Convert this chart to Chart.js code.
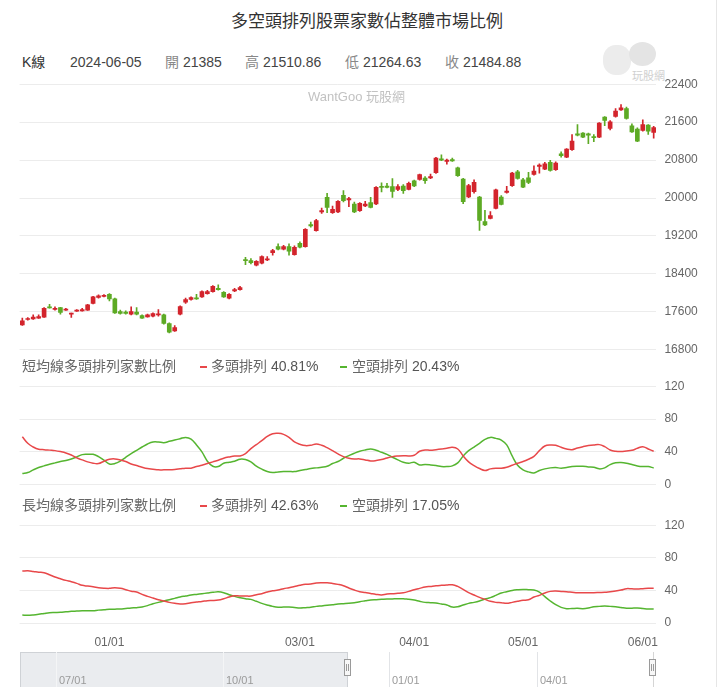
<!DOCTYPE html>
<html>
<head>
<meta charset="utf-8">
<script src="https://cdn.jsdelivr.net/npm/chart.js@4.4.1/dist/chart.umd.min.js"></script>
<style>
  body { margin: 0; background: #fff; font-family: "Liberation Sans", "Noto Sans CJK TC", sans-serif; }
  #wrap { position: relative; width: 720px; height: 687px; overflow: hidden; }
  #wrap canvas { position: absolute; left: 0; }
  .t { position: absolute; white-space: nowrap; line-height: 16px; }
  .dash { position: absolute; width: 7px; height: 2px; }
  .nav-line { position: absolute; top: 652px; width: 1px; height: 40px; background: #e2e4e7; }
  .nav-lbl { position: absolute; top: 674px; font-size: 11px; color: #9a9a9a; }
  .handle { position: absolute; top: 659px; width: 7px; height: 17px; background: #f7f7f7; border: 1px solid #9a9a9a; box-sizing: border-box; }
  .handle::before, .handle::after { content: ''; position: absolute; top: 4px; width: 1px; height: 7px; background: #9a9a9a; }
  .handle::before { left: 1px; }
  .handle::after { left: 3px; }
</style>
</head>
<body>
<div id="wrap">
  <div class="t" style="left:0;width:734px;text-align:center;top:13px;font-size:17px;line-height:18px;color:#333;">多空頭排列股票家數佔整體市場比例</div>

  <div class="t" style="left:22px;top:54px;font-size:14px;color:#333;">K線</div>
  <div class="t" style="left:70px;top:54px;font-size:14px;color:#444;">2024-06-05</div>
  <div class="t" style="left:165px;top:54px;font-size:14px;color:#444;"><span style="color:#888">開</span> 21385</div>
  <div class="t" style="left:245px;top:54px;font-size:14px;color:#444;"><span style="color:#888">高</span> 21510.86</div>
  <div class="t" style="left:345px;top:54px;font-size:14px;color:#444;"><span style="color:#888">低</span> 21264.63</div>
  <div class="t" style="left:445px;top:54px;font-size:14px;color:#444;"><span style="color:#888">收</span> 21484.88</div>

  <div style="position:absolute;left:603px;top:45px;width:28px;height:30px;border-radius:45%;background:#ececec;"></div>
  <div style="position:absolute;left:629px;top:42px;width:27px;height:24px;border-radius:50%;background:#e4e4e4;"></div>
  <div class="t" style="left:632px;top:68px;font-size:11px;color:#cfcfcf;">玩股網</div>

  <canvas id="kChart" width="720" height="286" style="top:74px"></canvas>
  <div class="t" style="left:308px;top:89px;font-size:13px;color:#c2c2c2;">WantGoo 玩股網</div>

  <div class="t" style="left:22px;top:358px;font-size:14px;color:#666;">短均線多頭排列家數比例</div>
  <div class="dash" style="left:200px;top:366px;background:#e8484a;"></div>
  <div class="t" style="left:211px;top:358px;font-size:14px;color:#666;">多頭排列 <span style="color:#555">40.81%</span></div>
  <div class="dash" style="left:340px;top:366px;background:#55b530;"></div>
  <div class="t" style="left:352px;top:358px;font-size:14px;color:#666;">空頭排列 <span style="color:#555">20.43%</span></div>
  <canvas id="shortChart" width="720" height="119" style="top:376px"></canvas>

  <div class="t" style="left:22px;top:497px;font-size:14px;color:#666;">長均線多頭排列家數比例</div>
  <div class="dash" style="left:200px;top:505px;background:#e8484a;"></div>
  <div class="t" style="left:211px;top:497px;font-size:14px;color:#666;">多頭排列 <span style="color:#555">42.63%</span></div>
  <div class="dash" style="left:340px;top:505px;background:#55b530;"></div>
  <div class="t" style="left:352px;top:497px;font-size:14px;color:#666;">空頭排列 <span style="color:#555">17.05%</span></div>
  <canvas id="longChart" width="720" height="140" style="top:515px"></canvas>

  <div style="position:absolute;left:20px;top:652px;width:328px;height:40px;background:#eaecef;border:1px solid #cfd2d6;box-sizing:border-box;"></div>
  <div id="nav"></div>
  <div style="position:absolute;left:653px;top:652px;width:1px;height:40px;background:#d5d5d5;"></div>
  <div class="handle" style="left:344px;"></div>
  <div class="handle" style="left:649px;"></div>
  <div style="position:absolute;left:716px;top:0;width:1px;height:687px;background:#e6e6e6;"></div>
</div>
<script>
const dates = [
  '2023-12-08', '2023-12-11', '2023-12-12', '2023-12-13', '2023-12-14', '2023-12-15', '2023-12-18', '2023-12-19',
  '2023-12-20', '2023-12-21', '2023-12-22', '2023-12-25', '2023-12-26', '2023-12-27', '2023-12-28', '2023-12-29',
  '2024-01-02', '2024-01-03', '2024-01-04', '2024-01-05', '2024-01-08', '2024-01-09', '2024-01-10', '2024-01-11',
  '2024-01-12', '2024-01-15', '2024-01-16', '2024-01-17', '2024-01-18', '2024-01-19', '2024-01-22', '2024-01-23',
  '2024-01-24', '2024-01-25', '2024-01-26', '2024-01-29', '2024-01-30', '2024-01-31',
  '2024-02-01', '2024-02-02', '2024-02-05', '2024-02-15', '2024-02-16', '2024-02-19', '2024-02-20', '2024-02-21',
  '2024-02-22', '2024-02-23', '2024-02-26', '2024-02-27', '2024-02-29',
  '2024-03-01', '2024-03-04', '2024-03-05', '2024-03-06', '2024-03-07', '2024-03-08', '2024-03-11', '2024-03-12',
  '2024-03-13', '2024-03-14', '2024-03-15', '2024-03-18', '2024-03-19', '2024-03-20', '2024-03-21', '2024-03-22',
  '2024-03-25', '2024-03-26', '2024-03-27', '2024-03-28', '2024-03-29',
  '2024-04-01', '2024-04-02', '2024-04-03', '2024-04-08', '2024-04-09', '2024-04-10', '2024-04-11', '2024-04-12',
  '2024-04-15', '2024-04-16', '2024-04-17', '2024-04-18', '2024-04-19', '2024-04-22', '2024-04-23', '2024-04-24',
  '2024-04-25', '2024-04-26', '2024-04-29', '2024-04-30',
  '2024-05-02', '2024-05-03', '2024-05-06', '2024-05-07', '2024-05-08', '2024-05-09', '2024-05-10', '2024-05-13',
  '2024-05-14', '2024-05-15', '2024-05-16', '2024-05-17', '2024-05-20', '2024-05-21', '2024-05-22', '2024-05-23',
  '2024-05-24', '2024-05-27', '2024-05-28', '2024-05-29', '2024-05-30', '2024-05-31',
  '2024-06-03', '2024-06-04', '2024-06-05'
];

const opens = [
  17326, 17439, 17453, 17467, 17488, 17705, 17649, 17691, 17635, 17551,
  17614, 17621, 17635, 17776, 17902, 17923, 17972, 17874, 17607, 17593,
  17551, 17593, 17523, 17495, 17509, 17537, 17537, 17355, 17200, 17551,
  17804, 17860, 17888, 17916, 17986, 18028, 18098, 18014, 17888, 18042,
  18070, 18695, 18681, 18583, 18625, 18695, 18850, 18976, 18920, 18976,
  18808, 19046, 18976, 19439, 19313, 19706, 20015, 19692, 19706, 20057,
  19958, 19874, 19734, 19832, 19902, 19874, 20239, 20253, 20239, 20183,
  20253, 20183, 20365, 20393, 20422, 20422, 20534, 20829, 20772, 20811,
  20638, 20400, 20021, 20133, 20021, 19502, 19572, 19782, 20021, 20119,
  20260, 20554, 20386, 20428, 20498, 20666, 20610, 20751, 20596, 20933,
  20863, 21017, 21354, 21368, 21354, 21298, 21284, 21705, 21466, 21719,
  21859, 21887, 21523, 21452, 21424, 21537, 21385
];
const highs = [
  17467, 17481, 17537, 17537, 17691, 17761, 17705, 17698, 17677, 17572,
  17649, 17677, 17761, 17930, 17958, 17965, 17986, 17888, 17635, 17621,
  17705, 17691, 17537, 17551, 17579, 17649, 17551, 17369, 17312, 17726,
  17888, 17916, 17972, 18042, 18056, 18154, 18168, 18028, 17986, 18098,
  18140, 18751, 18723, 18681, 18780, 18765, 18920, 19032, 19004, 19032,
  18990, 19074, 19355, 19495, 19551, 19790, 20099, 19832, 19944, 20155,
  20015, 19916, 19902, 19930, 20015, 20239, 20323, 20309, 20408, 20281,
  20281, 20337, 20379, 20506, 20450, 20506, 20857, 20913, 20820, 20843,
  20652, 20414, 20288, 20386, 20035, 19740, 19712, 20189, 20049, 20245,
  20540, 20582, 20414, 20540, 20680, 20722, 20751, 20793, 20765, 20975,
  21045, 21340, 21551, 21382, 21368, 21340, 21593, 21719, 21635, 21887,
  21972, 21915, 21565, 21480, 21649, 21551, 21510.86
];
const lows = [
  17312, 17425, 17439, 17460, 17481, 17677, 17635, 17551, 17628, 17481,
  17607, 17614, 17628, 17769, 17888, 17916, 17832, 17565, 17551, 17551,
  17537, 17537, 17460, 17488, 17495, 17509, 17340, 17158, 17186, 17537,
  17776, 17846, 17860, 17902, 17972, 18014, 18056, 17902, 17874, 18028,
  18056, 18597, 18611, 18569, 18611, 18681, 18794, 18906, 18906, 18794,
  18794, 18948, 18962, 19383, 19299, 19678, 19692, 19678, 19692, 19916,
  19818, 19692, 19720, 19818, 19790, 19860, 20127, 20211, 20015, 20155,
  20099, 20169, 20239, 20379, 20309, 20408, 20520, 20786, 20716, 20772,
  20456, 19881, 20007, 20105, 19319, 19417, 19558, 19768, 19853, 20105,
  20245, 20400, 20217, 20302, 20484, 20526, 20596, 20568, 20582, 20863,
  20849, 21003, 21312, 21270, 21144, 21186, 21270, 21523, 21438, 21705,
  21845, 21663, 21382, 21186, 21410, 21340, 21264.63
];
const closes = [
  17411, 17460, 17488, 17502, 17677, 17684, 17677, 17586, 17656, 17565,
  17635, 17649, 17747, 17916, 17937, 17951, 17874, 17579, 17565, 17565,
  17607, 17551, 17467, 17537, 17565, 17551, 17355, 17172, 17270, 17712,
  17860, 17902, 17874, 18028, 18028, 18140, 18070, 17916, 17972, 18070,
  18112, 18681, 18639, 18667, 18765, 18709, 18892, 18920, 18976, 18878,
  18962, 18962, 19341, 19411, 19523, 19734, 19804, 19762, 19930, 19944,
  19986, 19706, 19888, 19874, 19804, 20225, 20225, 20225, 20141, 20239,
  20155, 20309, 20253, 20492, 20365, 20450, 20843, 20800, 20800, 20783,
  20470, 19923, 20260, 20330, 19530, 19431, 19628, 20175, 19867, 20147,
  20526, 20414, 20231, 20330, 20568, 20694, 20722, 20582, 20737, 20891,
  21031, 21200, 21326, 21284, 21326, 21270, 21579, 21635, 21607, 21831,
  21901, 21677, 21396, 21200, 21551, 21410, 21484.88
];

// 短均線
const shortBull = [
  58.5, 50.5, 46.0, 43.2, 42.8, 42.2, 41.6, 40.4, 38.8, 36.3,
  32.7, 30.3, 27.9, 26.3, 25.9, 28.7, 31.1, 31.5, 30.3, 28.3,
  25.4, 23.4, 21.4, 19.8, 19.0, 18.2, 18.2, 18.2, 18.6, 19.4,
  20.2, 20.2, 22.2, 23.8, 25.9, 27.9, 29.9, 32.3, 33.9, 35.1,
  35.1, 38.0, 44.0, 48.9, 53.7, 59.0, 62.2, 62.6, 61.4, 57.8,
  52.1, 49.3, 47.7, 48.1, 49.7, 48.1, 45.2, 41.6, 37.6, 34.3,
  32.3, 31.5, 31.5, 30.3, 29.1, 29.5, 30.7, 32.7, 34.3, 35.1,
  35.5, 35.1, 35.9, 40.8, 42.4, 42.0, 42.8, 43.6, 44.4, 45.6,
  43.6, 35.1, 27.9, 23.4, 19.8, 17.4, 19.4, 20.2, 20.2, 21.4,
  23.8, 26.3, 28.3, 31.1, 34.7, 41.6, 47.2, 48.5, 48.1, 45.6,
  43.6, 42.8, 44.8, 46.4, 47.7, 48.5, 48.9, 46.4, 42.4, 40.8,
  40.4, 41.2, 42.0, 44.4, 46.4, 43.6, 40.81
];
const shortBear = [
  13.7, 14.9, 18.2, 21.0, 23.0, 25.0, 26.7, 28.3, 29.5, 31.5,
  33.9, 36.7, 37.1, 37.1, 34.3, 29.9, 25.4, 25.8, 28.7, 33.5,
  38.0, 42.0, 46.0, 49.7, 52.1, 52.1, 51.3, 52.9, 54.5, 56.1,
  57.7, 55.7, 48.5, 40.0, 28.7, 22.6, 22.2, 26.3, 27.5, 28.7,
  31.1, 30.7, 27.9, 22.6, 19.0, 16.1, 14.9, 15.7, 16.1, 16.1,
  16.1, 17.4, 18.6, 19.8, 20.6, 21.4, 22.6, 25.9, 28.3, 32.3,
  35.5, 38.4, 40.8, 42.4, 43.6, 42.0, 39.6, 37.1, 33.5, 30.3,
  27.5, 26.3, 27.5, 24.2, 24.6, 24.2, 23.4, 22.2, 22.2, 23.0,
  26.7, 35.1, 41.6, 46.0, 50.5, 55.3, 57.7, 56.5, 54.5, 48.5,
  35.1, 23.8, 18.2, 15.7, 14.5, 17.4, 19.4, 20.6, 21.0, 20.2,
  21.0, 22.2, 22.6, 22.6, 21.8, 21.4, 19.4, 20.6, 24.6, 26.7,
  27.1, 26.3, 24.6, 23.0, 22.2, 22.2, 20.43
];

// 長均線
const longBull = [
  63.7, 64.1, 63.3, 62.3, 61.7, 59.2, 56.4, 54.3, 52.3, 50.6,
  48.6, 46.2, 45.3, 44.5, 43.3, 42.7, 42.5, 43.1, 42.5, 40.9,
  39.0, 38.0, 35.1, 32.7, 30.6, 28.6, 27.0, 25.3, 24.1, 23.3,
  23.7, 24.9, 25.7, 26.4, 27.4, 27.6, 28.2, 29.8, 31.9, 33.5,
  33.1, 33.1, 33.1, 34.7, 36.0, 38.0, 39.6, 40.4, 42.1, 43.3,
  44.7, 46.2, 47.4, 47.8, 49.0, 49.4, 49.4, 48.6, 47.4, 45.7,
  42.9, 40.4, 38.4, 37.4, 36.2, 35.1, 34.5, 35.5, 35.9, 36.4,
  37.2, 38.8, 40.8, 42.5, 44.1, 44.9, 45.7, 46.2, 46.6, 47.0,
  44.9, 41.3, 37.2, 34.3, 31.5, 29.0, 26.6, 25.3, 24.9, 24.1,
  25.3, 26.6, 27.8, 28.6, 31.9, 33.9, 36.8, 38.8, 39.2, 38.8,
  38.4, 37.8, 37.2, 37.2, 37.2, 37.2, 37.4, 37.6, 38.4, 39.2,
  40.4, 42.1, 41.9, 41.7, 42.1, 42.5, 42.63
];
const longBear = [
  9.8, 9.4, 9.8, 10.6, 11.7, 12.7, 12.9, 13.1, 13.7, 14.3,
  14.7, 15.1, 15.1, 15.1, 15.8, 16.2, 16.8, 17.0, 17.2, 17.8,
  18.4, 18.8, 19.6, 21.3, 23.7, 25.3, 27.0, 28.6, 30.2, 31.9,
  33.1, 34.3, 35.1, 35.9, 36.8, 37.6, 38.2, 37.2, 34.7, 32.7,
  31.1, 29.8, 29.0, 26.6, 24.1, 22.1, 20.4, 19.4, 19.6, 19.6,
  19.0, 18.4, 18.8, 19.2, 20.4, 21.0, 21.7, 22.5, 23.3, 23.7,
  24.1, 24.9, 26.2, 27.2, 28.2, 28.6, 29.0, 29.4, 29.6, 29.8,
  29.8, 29.0, 28.2, 26.6, 25.3, 24.9, 24.5, 23.3, 22.1, 19.6,
  20.0, 22.1, 24.1, 25.3, 27.0, 29.4, 31.1, 33.9, 36.8, 38.4,
  40.0, 40.8, 41.2, 40.8, 40.4, 38.0, 32.3, 27.0, 22.5, 19.2,
  17.6, 17.8, 18.0, 17.6, 18.4, 20.0, 20.4, 20.8, 20.4, 20.0,
  19.0, 18.0, 18.2, 18.4, 17.8, 17.2, 17.05
];

const monthTicks = ['01/01', '03/01', '04/01', '05/01', '06/01'];
const navTicks = ['07/01', '10/01', '01/01', '04/01'];

const UP = '#d3242c';
const DOWN = '#5daa24';
const BULL_LINE = '#e8484a';
const BEAR_LINE = '#55b530';
const GRID = '#ececec';
const AXIS_W = 63.6;
const PAD_LEFT = 19.6;

Chart.defaults.font.family = '"Liberation Sans", "Noto Sans CJK TC", sans-serif';

function monthLabel(i) {
  const d = dates[i];
  if (!d) return null;
  if (i > 0 && dates[i - 1].slice(5, 7) === d.slice(5, 7)) return null;
  const lbl = d.slice(5, 7) + '/01';
  return monthTicks.includes(lbl) ? lbl : null;
}

function xScale(showLabels) {
  return {
    type: 'category',
    offset: true,
    grid: {
      offset: false,
      drawTicks: false,
      color: ctx => (monthLabel(ctx.index) ? GRID : 'rgba(0,0,0,0)')
    },
    border: { display: false },
    ticks: {
      display: showLabels,
      autoSkip: false,
      maxRotation: 0,
      padding: 12,
      color: '#666',
      font: { size: 12 },
      callback: (v, i) => monthLabel(i)
    },
    afterFit: s => { s.height = showLabels ? 24 : 0; }
  };
}

function yScale(min, max, step) {
  return {
    position: 'right',
    min, max,
    ticks: { stepSize: step, padding: 8, color: '#666', font: { size: 12 }, callback: v => String(v) },
    grid: { color: GRID, drawTicks: false },
    border: { display: false },
    afterFit: s => { s.width = AXIS_W; }
  };
}

const baseOpts = {
  responsive: false,
  animation: false,
  devicePixelRatio: 1,
  layout: { padding: { left: PAD_LEFT, right: 0, top: 10, bottom: 10 } },
  plugins: { legend: { display: false }, tooltip: { enabled: false } }
};

const candleColors = opens.map((o, i) => (closes[i] >= o ? UP : DOWN));

function candleConfig() {
  return {
    type: 'bar',
    data: {
      labels: dates,
      datasets: [
        {
          data: lows.map((l, i) => [l, highs[i]]),
          backgroundColor: candleColors,
          barThickness: 1,
          grouped: false,
          order: 2
        },
        {
          data: opens.map((o, i) => [o, closes[i]]),
          backgroundColor: candleColors,
          barThickness: 4,
          minBarLength: 1,
          grouped: false,
          order: 1
        }
      ]
    },
    options: { ...baseOpts, scales: { x: xScale(false), y: yScale(16800, 22400, 800) } }
  };
}

function ratioConfig(bull, bear, showLabels) {
  return {
    type: 'line',
    data: {
      labels: dates,
      datasets: [
        { data: bull, borderColor: BULL_LINE, borderWidth: 1.5, pointRadius: 0, tension: 0.4, fill: false },
        { data: bear, borderColor: BEAR_LINE, borderWidth: 1.5, pointRadius: 0, tension: 0.4, fill: false }
      ]
    },
    options: { ...baseOpts, scales: { x: xScale(showLabels), y: yScale(0, 120, 40) } }
  };
}

// draw once, measure how much room the axes take, then redraw so the plot area
// lands exactly between plotTop and plotBottom on the page
function placeChart(id, makeConfig, plotTop, plotBottom) {
  const canvas = document.getElementById(id);
  let chart = new Chart(canvas, makeConfig());
  const topOff = chart.chartArea.top;
  const botOff = canvas.height - chart.chartArea.bottom;
  chart.destroy();
  canvas.width = 720;
  canvas.height = Math.round(topOff + (plotBottom - plotTop) + botOff);
  canvas.style.width = '720px';
  canvas.style.height = canvas.height + 'px';
  canvas.style.top = (plotTop - topOff) + 'px';
  return new Chart(canvas, makeConfig());
}

placeChart('kChart', candleConfig, 84, 350);
placeChart('shortChart', () => ratioConfig(shortBull, shortBear, false), 386, 485);
placeChart('longChart', () => ratioConfig(longBull, longBear, true), 525, 623);

// navigator strip
const navX = [56, 223, 389, 537];
const nav = document.getElementById('nav');
navTicks.forEach((lbl, i) => {
  const line = document.createElement('div');
  line.className = 'nav-line';
  line.style.left = navX[i] + 'px';
  if (navX[i] < 348) line.style.background = '#f4f5f6';
  nav.appendChild(line);
  const txt = document.createElement('div');
  txt.className = 'nav-lbl';
  txt.style.left = (navX[i] + 3) + 'px';
  txt.textContent = lbl;
  nav.appendChild(txt);
});
</script>
</body>
</html>
